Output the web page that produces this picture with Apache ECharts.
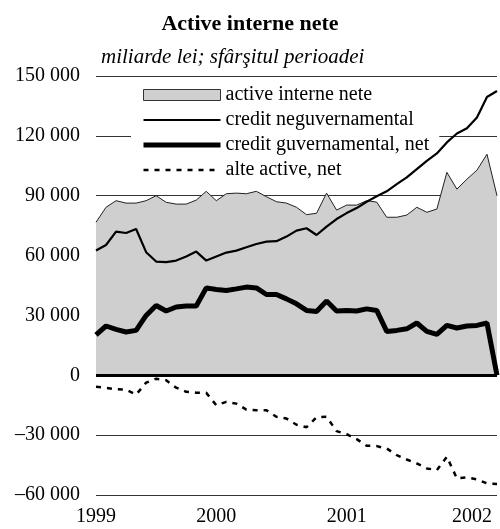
<!DOCTYPE html>
<html>
<head>
<meta charset="utf-8">
<script src="https://cdn.jsdelivr.net/npm/echarts@6/dist/echarts.min.js"></script>
<style>
  html, body { margin: 0; padding: 0; background: #fff; }
  #chart { width: 500px; height: 529px; }
</style>
</head>
<body>
<div id="chart"></div>
<script>
// months, Dec 1998 .. Apr 2002
var months = [
  '12.1998',
  '01.1999','02.1999','03.1999','04.1999','05.1999','06.1999','07.1999','08.1999','09.1999','10.1999','11.1999','12.1999',
  '01.2000','02.2000','03.2000','04.2000','05.2000','06.2000','07.2000','08.2000','09.2000','10.2000','11.2000','12.2000',
  '01.2001','02.2001','03.2001','04.2001','05.2001','06.2001','07.2001','08.2001','09.2001','10.2001','11.2001','12.2001',
  '01.2002','02.2002','03.2002','04.2002'
];

var activeInterne = [76700, 84200, 87500, 86300, 86300, 87500, 90000, 86700, 85800, 85800, 87800, 92200,
  87500, 91000, 91300, 91000, 92200, 89500, 87000, 86300, 84200, 80500, 81200, 91300,
  82800, 85300, 85300, 87500, 86800, 79200, 79200, 80300, 84200, 81700, 83300, 101700,
  93300, 98300, 102800, 110800, 90000];

var creditNeguv = [62500, 65300, 72000, 71300, 73300, 61700, 57000, 56700, 57500, 59500, 62000, 57500,
  59500, 61500, 62500, 64200, 65800, 67000, 67200, 69500, 72500, 73700, 70300, 74500,
  78300, 81300, 83800, 87000, 89700, 92200, 95800, 99200, 103300, 107500, 111200, 116700,
  121200, 123800, 129200, 139500, 142500];

var creditGuv = [20300, 24700, 23000, 21700, 22500, 30000, 35000, 32200, 34200, 34700, 34700, 43800,
  43000, 42500, 43300, 44200, 43800, 40500, 40500, 38300, 35800, 32500, 32000, 37200,
  32200, 32500, 32200, 33300, 32500, 22000, 22500, 23300, 26200, 22000, 20500, 25000,
  23700, 24700, 25000, 26200, 0];

var alteActive = [-5800, -6300, -7000, -7200, -9700, -3700, -1700, -2500, -6200, -8300, -8700, -8800,
  -15000, -13300, -14200, -17200, -17500, -17500, -20800, -21700, -24800, -26000, -21000, -20800,
  -28000, -29500, -32000, -35300, -35500, -36700, -40000, -42200, -44200, -46700, -47500, -40800,
  -51700, -51200, -52200, -54200, -54500];

var seriesNames = ['active interne nete', 'credit neguvernamental', 'credit guvernamental, net', 'alte active, net'];
var yearLabels = ['1999', '2000', '2001', '2002'];
var yearAt = {0: 0, 12: 1, 25: 2, 37.5: 3};

var FONT = '"Liberation Serif", "Times New Roman", serif';

function fmtY(v) {
  var s = String(Math.abs(v)).replace(/\B(?=(\d{3})+(?!\d))/g, ' ');
  return (v < 0 ? '\u2013' : '') + s;
}

// line items in the legend: no marker, keep the series' own line width
var noMarker = { opacity: 0, borderWidth: 0 };

var chart = echarts.init(document.getElementById('chart'));
chart.setOption({
  animation: false,
  backgroundColor: '#fff',
  textStyle: { fontFamily: FONT },
  title: [
    { text: 'Active interne nete', left: 'center', top: 8,
      textStyle: { fontFamily: FONT, fontSize: 22, fontWeight: 'bold', color: '#000' } },
    { text: 'miliarde lei; sfârşitul perioadei', left: 96, top: 42,
      textStyle: { fontFamily: FONT, fontSize: 21, fontStyle: 'italic', fontWeight: 'normal', color: '#000' } }
  ],
  legend: {
    orient: 'vertical',
    left: 131, top: 81,
    padding: [4, 10, 6, 10],
    backgroundColor: '#fff',
    itemWidth: 77, itemHeight: 11, itemGap: 5,
    lineStyle: { width: 'inherit' },
    textStyle: { fontFamily: FONT, fontSize: 20, lineHeight: 20, color: '#000' },
    data: [
      { name: seriesNames[0], icon: 'rect', itemStyle: { borderColor: '#333', borderWidth: 1 } },
      { name: seriesNames[1], itemStyle: noMarker },
      { name: seriesNames[2], itemStyle: noMarker },
      { name: seriesNames[3], itemStyle: noMarker }
    ]
  },
  grid: { left: 96, right: 3, top: 76, bottom: 34, containLabel: false },
  xAxis: [
    { type: 'category', data: months, boundaryGap: false,
      axisLine: { show: false }, axisTick: { show: false }, axisLabel: { show: false },
      splitLine: { show: false } },
    { type: 'value', position: 'bottom', min: 0, max: months.length - 1, interval: 0.5,
      axisLine: { show: false }, axisTick: { show: false }, splitLine: { show: false },
      axisLabel: { margin: 12, fontFamily: FONT, fontSize: 20, color: '#000',
        formatter: function (v) { return yearAt[v] !== undefined ? yearLabels[yearAt[v]] : ''; } } }
  ],
  yAxis: {
    type: 'value', min: -60000, max: 150000, interval: 30000,
    axisLine: { show: false }, axisTick: { show: false },
    axisLabel: { margin: 16, fontFamily: FONT, fontSize: 20, color: '#000', formatter: fmtY },
    splitLine: { lineStyle: { color: '#333', width: 1 } }
  },
  series: [
    { name: seriesNames[0], type: 'line', data: activeInterne, symbol: 'none',
      color: '#cfcfcf',
      lineStyle: { color: '#222', width: 1 },
      areaStyle: { color: '#cfcfcf', opacity: 1 },
      markLine: { silent: true, symbol: ['none', 'none'], label: { show: false },
        lineStyle: { color: '#000', width: 3, type: 'solid' },
        data: [{ yAxis: 0 }] } },
    { name: seriesNames[1], type: 'line', data: creditNeguv, symbol: 'none', z: 5,
      color: '#000', lineStyle: { color: '#000', width: 2.2 } },
    { name: seriesNames[2], type: 'line', data: creditGuv, symbol: 'none',
      color: '#000', lineStyle: { color: '#000', width: 5 } },
    { name: seriesNames[3], type: 'line', data: alteActive, symbol: 'none',
      color: '#000', lineStyle: { color: '#000', width: 2.5, type: [5, 6] } }
  ]
});
</script>
</body>
</html>
